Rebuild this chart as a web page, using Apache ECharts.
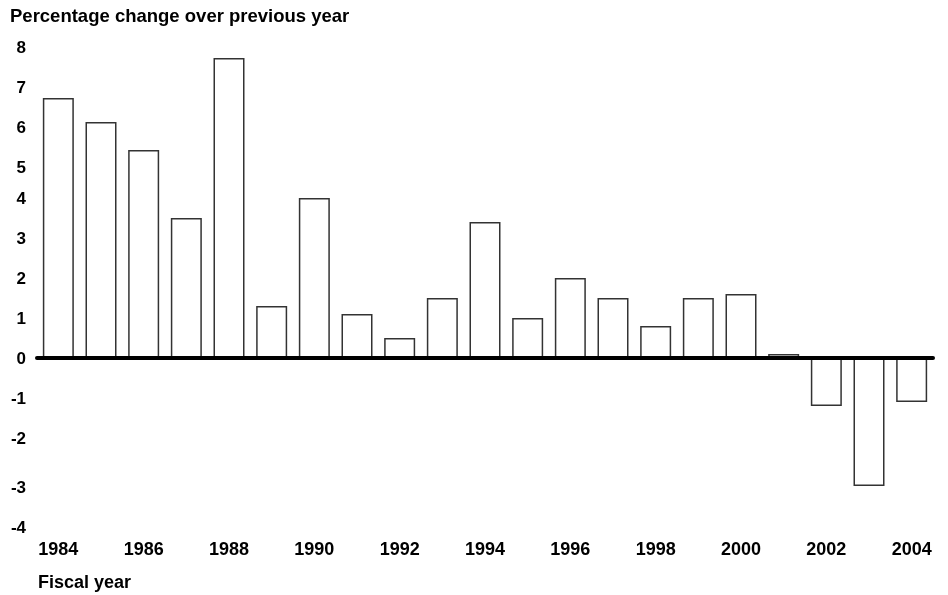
<!DOCTYPE html>
<html>
  <head>
    <meta charset="utf-8" />
    <script src="https://cdn.jsdelivr.net/npm/echarts@6.0.0/dist/echarts.min.js"></script>
  </head>
  <body style="margin:0">
    <div id="main" style="width: 948px;height:595px;"></div>
    <script type="text/javascript">
      // fiscal years and percentage change over previous year
      var years = ['1984', '1985', '1986', '1987', '1988', '1989', '1990', '1991', '1992', '1993', '1994',
        '1995', '1996', '1997', '1998', '1999', '2000', '2001', '2002', '2003', '2004'];
      var pctChange = [6.5, 5.9, 5.2, 3.5, 7.5, 1.3, 4.0, 1.1, 0.5, 1.5, 3.4,
        1.0, 2.0, 1.5, 0.8, 1.5, 1.6, 0.1, -1.2, -3.2, -1.1];
      // y tick labels that sit a little lower in the original
      var lowLabels = [8, 7, 6, 5, -3, -4];

      var font = 'Liberation Sans, Arial, Helvetica, sans-serif';
      var myChart = echarts.init(document.getElementById('main'));

      option = {
        animation: false,
        backgroundColor: '#fff',
        title: [
          {
            text: 'Percentage change over previous year',
            left: 5,
            top: 2,
            textStyle: { fontFamily: font, fontSize: 18.5, fontWeight: 'bold', color: '#000' }
          },
          {
            text: 'Fiscal year',
            left: 33,
            top: 569,
            textStyle: { fontFamily: font, fontSize: 18, fontWeight: 'bold', color: '#000' }
          }
        ],
        grid: { left: 37, right: 15, top: 38, bottom: 77, containLabel: false, outerBoundsMode: 'none' },
        xAxis: [
          {
            // zero line
            type: 'category',
            data: years,
            z: 3,
            axisLine: { onZero: true, lineStyle: { color: '#000', width: 4 } },
            axisTick: { show: false },
            axisLabel: { show: false }
          },
          {
            // year labels along the bottom
            type: 'category',
            data: years,
            position: 'bottom',
            axisLine: { show: false, onZero: false },
            axisTick: { show: false },
            axisLabel: {
              interval: 1,
              margin: 23,
              fontFamily: font,
              fontSize: 18,
              fontWeight: 'bold',
              color: '#000'
            }
          }
        ],
        yAxis: {
          type: 'value',
          min: -4,
          max: 8,
          interval: 1,
          splitLine: { show: false },
          axisLine: { show: false },
          axisTick: { show: false },
          axisLabel: {
            margin: 11,
            fontFamily: font,
            fontSize: 17,
            fontWeight: 'bold',
            color: '#000',
            formatter: function (v) {
              return lowLabels.indexOf(v) >= 0 ? '{low|' + v + '}' : '{n|' + v + '}';
            },
            rich: {
              n: { fontFamily: font, fontSize: 17, fontWeight: 'bold', color: '#000', padding: [2, 0, 0, 0] },
              low: { fontFamily: font, fontSize: 17, fontWeight: 'bold', color: '#000', padding: [20, 0, 0, 0] }
            }
          }
        },
        series: [
          {
            type: 'bar',
            xAxisIndex: 0,
            data: pctChange,
            barWidth: 31,
            itemStyle: { color: '#fff', borderColor: '#333', borderWidth: 1.5 }
          }
        ]
      };

      myChart.setOption(option);
    </script>
  </body>
</html>
